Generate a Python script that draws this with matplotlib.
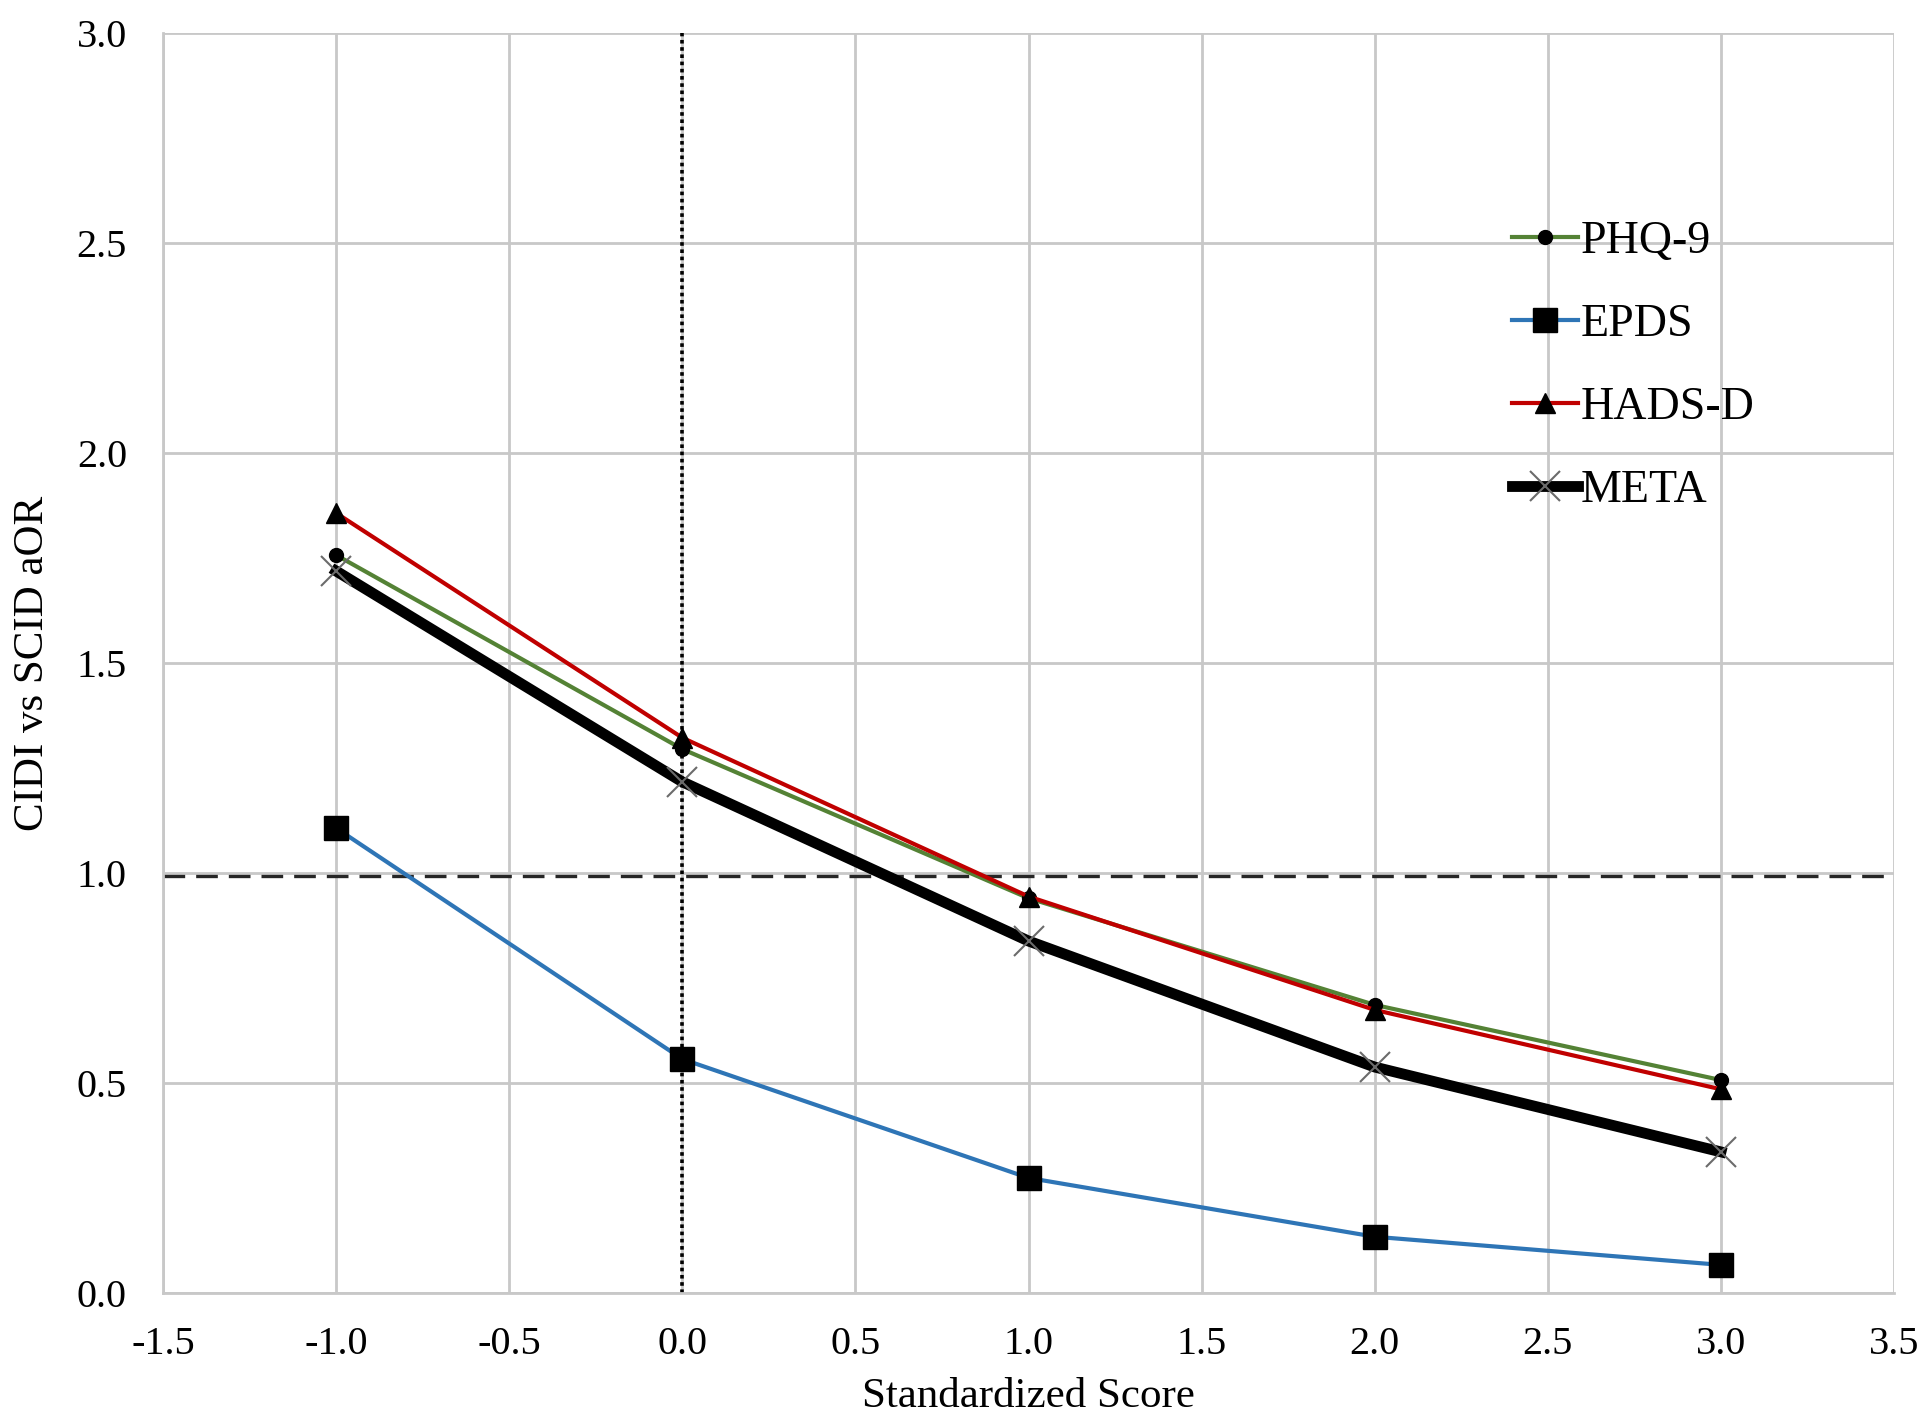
import matplotlib
matplotlib.use("Agg")
import matplotlib.pyplot as plt

plt.rcParams['font.family'] = ['Liberation Serif', 'DejaVu Serif']

x_vals = [-1.0, 0.0, 1.0, 2.0, 3.0]
phq9 = [1.757, 1.295, 0.940, 0.686, 0.507]
epds = [1.107, 0.557, 0.274, 0.134, 0.067]
hadsd = [1.857, 1.322, 0.944, 0.674, 0.485]
meta = [1.719, 1.217, 0.838, 0.538, 0.336]
x_ticks = [-1.5, -1.0, -0.5, 0.0, 0.5, 1.0, 1.5, 2.0, 2.5, 3.0, 3.5]
y_ticks = [0.0, 0.5, 1.0, 1.5, 2.0, 2.5, 3.0]
ref_y = 0.993
ref_x = 0.0

fig = plt.figure(figsize=(19.2, 14.15), dpi=100)
ax = fig.add_axes([0.0849, 0.0862, 0.9016, 0.8905])

grid_c = '#c8c8c8'
ax.set_xlim(-1.5, 3.5)
ax.set_ylim(0, 3.0)
ax.set_xticks(x_ticks)
ax.set_yticks(y_ticks)
ax.set_xticklabels([f"{v:.1f}" for v in x_ticks])
ax.set_yticklabels([f"{v:.1f}" for v in y_ticks])
ax.grid(True, color=grid_c, linewidth=2.0)
ax.set_axisbelow(True)
for s in ['top', 'right']:
    ax.spines[s].set_visible(False)
for s in ['left', 'bottom']:
    ax.spines[s].set_color(grid_c)
    ax.spines[s].set_linewidth(2.0)
ax.tick_params(axis='both', length=0, labelsize=29, colors='black')
ax.tick_params(axis='y', pad=26)
ax.tick_params(axis='x', pad=24)

ax.axhline(ref_y, color='#262626', linestyle=(0, (6.5, 3.3)), linewidth=2.4, zorder=2)
ax.axvline(ref_x, color='black', linestyle=(0, (1, 1)), linewidth=2.6, zorder=2)

ax.plot(x_vals, phq9, color='#548235', linewidth=3.0, marker='o', markersize=10,
        markerfacecolor='black', markeredgecolor='black', label='PHQ-9', zorder=4)
ax.plot(x_vals, epds, color='#2E75B6', linewidth=3.0, marker='s', markersize=17,
        markerfacecolor='black', markeredgecolor='black', label='EPDS', zorder=4)
ax.plot(x_vals, hadsd, color='#C00000', linewidth=3.0, marker='^', markersize=15,
        markerfacecolor='black', markeredgecolor='black', label='HADS-D', zorder=4)
ax.plot(x_vals, meta, color='black', linewidth=7.8, marker='x', markersize=22,
        markeredgecolor='#6b6b6b', markeredgewidth=1.5, label='META', zorder=5)

leg = ax.legend(loc='upper left', bbox_to_anchor=(0.766, 0.869), fontsize=33,
                frameon=False, handlelength=1.45, handletextpad=0.05,
                labelspacing=0.88, borderpad=0)

ax.set_xlabel('Standardized Score', fontsize=31, labelpad=10)
ax.set_ylabel('CIDI vs SCID aOR', fontsize=31, labelpad=18)

fig.savefig('out.png', dpi=100)
